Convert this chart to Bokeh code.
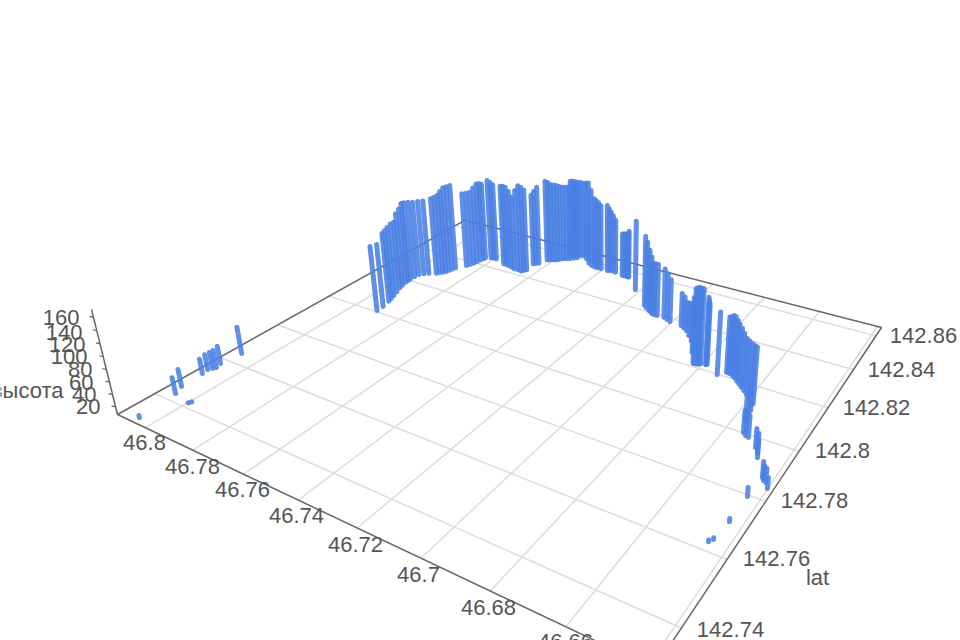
import numpy as np
from bokeh.plotting import figure
from bokeh.embed import file_html
from bokeh.resources import INLINE
from bokeh.core.properties import value

# chart data: one entry per column of points
_lon4 = [7907,7909,7918,7924,7931,7941,7952,
7958,7964,7965,7966,7966,7963,7951,
7938,7914,7907,7898,7893,7889,7885,
7881,7858,7851,7846,7844,7842,7839,
7836,7818,7807,7795,7746,7735,7721,
7704,7687,7671,7654,7649,7643,7650,
7643,7635,7624,7616,7608,7598,7589,
7583,7574,7565,7555,7545,7535,7565,
7557,7549,7541,7533,7524,7500,7473,
7454,7437,7429,7420,7409,7382,7376,
7370,7360,7349,7314,7307,7297,7291,
7287,7218,7135,7121,7105,7094,7084,
7075,7064,7039,7024,7008,6964,6949,
6934,6913,6892,6858,6827,6822,6816,
6812,6810,6805,6790,6788,6786,6735,
6716,6709,6702,6692,6682,6670,6658,
6645,6631,6618,6604,6573,6580,6566,
6569,6549,6538,6528,6494,6481,6472,
6429,6422,6414,6401,6433,6434,6448,
6441,8057,7998,7994,8072,8089,8094,
8099,8091,8085,8093,8084]
_lat4 = [8006,8034,8067,8083,8101,8124,8148,
8165,8185,8198,8210,8229,8246,8258,
8269,8281,8290,8297,8305,8316,8328,
8341,8372,8384,8397,8412,8427,8438,
8447,8457,8459,8459,8442,8442,8440,
8435,8430,8430,8427,8436,8444,8490,
8496,8503,8536,8540,8545,8549,8554,
8563,8570,8575,8580,8590,8598,8603,
8607,8611,8615,8619,8623,8607,8584,
8574,8569,8570,8571,8569,8569,8572,
8575,8574,8572,8563,8564,8564,8564,
8563,8500,8428,8418,8408,8402,8395,
8395,8394,8395,8389,8382,8378,8370,
8360,8339,8318,8264,8216,8216,8217,
8219,8221,8223,8227,8228,8229,8198,
8221,8220,8219,8213,8207,8196,8187,
8176,8165,8154,8144,8093,8123,8048,
8071,8002,7993,7990,7963,7948,7930,
7870,7862,7858,7841,7795,7703,7627,
7638,7315,7416,7423,7427,7456,7523,
7543,7553,7561,7580,7643]
height_top = [124,121,132,133,134,134,131,
142,146,153,152,149,146,146,
146,150,152,155,161,166,166,
166,147,146,146,151,156,155,
152,159,156,153,158,159,159,
154,146,160,171,167,161,141,
148,155,161,159,155,154,153,
150,148,148,149,151,153,154,
154,153,152,152,150,156,163,
153,140,137,134,130,133,127,
121,115,108,88,89,89,92,
96,136,134,127,117,108,99,
100,100,95,90,83,65,63,
58,65,72,102,133,135,136,
135,134,134,121,116,110,112,
100,102,105,106,103,101,99,
96,93,94,95,111,99,48,
56,43,44,42,37,37,34,
32,30,29,24,21,12,10,
10,11,8,8,34,36,32,
33,35,37,37,53]
lon = [46 + v / 10000 for v in _lon4]
lat = [142 + v / 10000 for v in _lat4]
HEIGHT_MIN = 7.5
HEIGHT_MAX = 172

lon_ticks = [46.8, 46.78, 46.76, 46.74, 46.72, 46.7, 46.68, 46.66]
lon_grid = lon_ticks + [46.64]
lat_ticks = [142.86, 142.84, 142.82, 142.8, 142.78, 142.76, 142.74]
height_ticks = [160, 140, 120, 100, 80, 60, 40, 20]
LON_MIN, LON_MAX = 46.63861, 46.81245
LAT_MIN, LAT_MAX = 142.72961, 142.86536

# camera of the 3D scene
GROUND = np.array([[-358.6450428, 629.4118223, 594.9948608],
                   [-62.5486457, -108.7810816, 589.3176428],
                   [0.2990230, 0.5069309, 1.0]])
UP_VANISH = (605.0, 2384.0)
UP_K = -0.00039460

def project(lo, la, z):
    s = (np.asarray(lo, float) - 46.66) / 0.14
    t = (np.asarray(la, float) - 142.74) / 0.12
    q = UP_K * (np.asarray(z, float) - HEIGHT_MIN)
    w = GROUND[2, 0] * s + GROUND[2, 1] * t + GROUND[2, 2] + q
    x = GROUND[0, 0] * s + GROUND[0, 1] * t + GROUND[0, 2] + q * UP_VANISH[0]
    y = GROUND[1, 0] * s + GROUND[1, 1] * t + GROUND[1, 2] + q * UP_VANISH[1]
    return x / w, y / w

p = figure(width=960, height=640, x_range=(0, 960), y_range=(640, 0),
           toolbar_location=None, output_backend="svg", min_border=0)
p.axis.visible = False
p.grid.visible = False
p.outline_line_color = None

for lo in lon_grid:
    a = project(lo, LAT_MIN, HEIGHT_MIN); b = project(lo, LAT_MAX, HEIGHT_MIN)
    p.line([a[0], b[0]], [a[1], b[1]], line_color="#dcdcdc", line_width=1.5)
for la in lat_ticks:
    a = project(LON_MIN, la, HEIGHT_MIN); b = project(LON_MAX, la, HEIGHT_MIN)
    p.line([a[0], b[0]], [a[1], b[1]], line_color="#dcdcdc", line_width=1.5)

box_lo = [LON_MAX, LON_MAX, LON_MIN, LON_MIN, LON_MAX]
box_la = [LAT_MIN, LAT_MAX, LAT_MAX, LAT_MIN, LAT_MIN]
bx, by = project(box_lo, box_la, [HEIGHT_MIN] * 5)
p.line(bx, by, line_color="#666666", line_width=1.5)
zx, zy = project([LON_MAX, LON_MAX], [LAT_MIN, LAT_MIN], [HEIGHT_MIN, HEIGHT_MAX])
p.line(zx, zy, line_color="#666666", line_width=1.5)
for z in height_ticks:
    a = project(LON_MAX, LAT_MIN, z)
    p.line([a[0], a[0] - 4], [a[1], a[1] - 1], line_color="#666666", line_width=1.2)

x0, y0 = project(lon, lat, [HEIGHT_MIN] * len(lon))
x1, y1 = project(lon, lat, height_top)
p.segment(x0, y0, x1, y1, line_color="#4a80e4", line_width=5, line_alpha=0.88, line_cap="round")

def lab(xs, ys, ts, al="center"):
    p.text(xs, ys, text=ts, text_font=value("Liberation Sans"), text_font_size="22px",
           text_color="#555555", text_align=al, text_baseline="middle")

lab([144, 192, 242, 296, 355, 418, 488, 565], [442, 466, 489, 515, 544, 574, 607, 641],
    [f"{v:g}" for v in lon_ticks])
lab([923, 901, 876, 842, 814, 776, 730], [335, 369, 407, 450, 500, 558, 629],
    [f"{v:g}" for v in lat_ticks])
lab([817], [577], ["lat"])
lab([79, 82, 85, 87, 92, 93, 96, 100], [317, 332, 344, 356, 369, 382, 394, 406],
    [str(v) for v in height_ticks], "right")
lab([63], [390], ["высота"], "right")

html = file_html(p, INLINE).replace("<head>", "<head><style>html,body{margin:0;overflow:hidden}</style>", 1)
open("out.html", "w").write(html)
